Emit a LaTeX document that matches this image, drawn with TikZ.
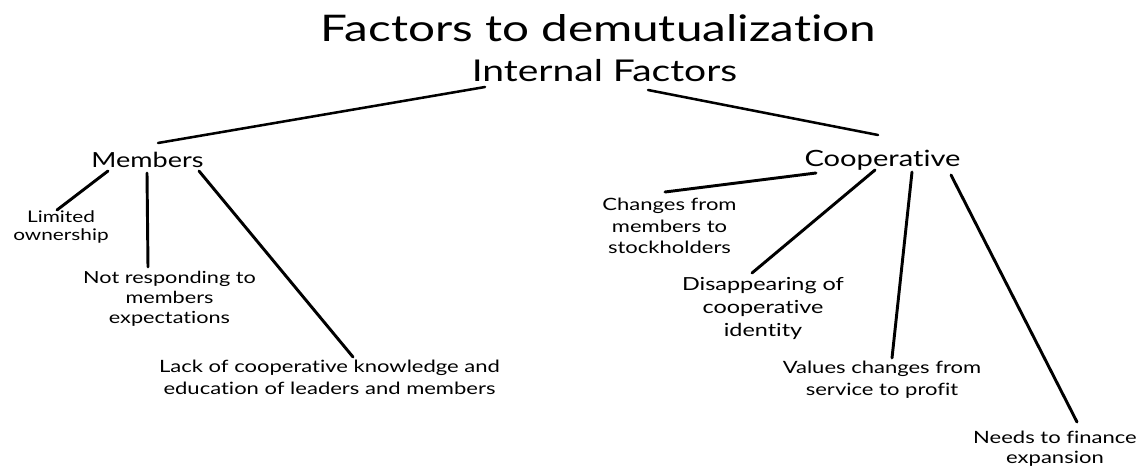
\documentclass[tikz,border=0pt]{standalone}
\usepackage{fontspec}
\setmainfont{Lato}[FakeStretch=1.3,Ligatures=NoCommon]
\usetikzlibrary{calc}
\tikzset{every picture/.style={line width=0.75pt}}

\begin{document}
\begin{tikzpicture}[x=0.75pt,y=0.75pt,yscale=-1,xscale=1,
  heading/.style={anchor=base,inner sep=0.75pt,font=\fontsize{27.5}{32}\selectfont},
  branch/.style={anchor=base,inner sep=0.75pt,font=\fontsize{16.2}{19}\selectfont},
  leaf/.style={anchor=base,inner sep=0.75pt,align=center,font=\fontsize{12.7}{15.8}\selectfont},
  link/.style={line width=2.2pt,line cap=round}]
\useasboundingbox (0,0) rectangle (1144,466);

% Text Node
\node (title) at (598.5,42) [heading] {Factors to demutualization};
% Text Node
\node (internal) at (604.5,82) [heading,font=\fontsize{22.5}{26}\selectfont] {Internal Factors};
% Text Node
\node (members) at (147.5,168) [branch,font=\fontsize{15.6}{19}\selectfont] {Members};
% Text Node
\node (coop) at (882.5,167) [branch,font=\fontsize{16.8}{19}\selectfont] {Cooperative};

% Text Node
\node (limited) at (61,241) [leaf,font=\fontsize{12}{14}\selectfont] {Limited\\ownership};
% Text Node
\node (notresp) at (169.5,323) [leaf,font=\fontsize{12.5}{15}\selectfont] {Not responding to\\members\\expectations};
% Text Node
\node (lack) at (329.5,394) [leaf] {Lack of cooperative knowledge and\\education of leaders and members};
% Text Node
\node (changes) at (669.5,254) [leaf,font=\fontsize{12.7}{16.2}\selectfont] {Changes from\\members to\\stockholders};
% Text Node
\node (disap) at (763,336) [leaf,font=\fontsize{13.5}{17}\selectfont] {Disappearing of\\cooperative\\identity};
% Text Node
\node (values) at (882,395) [leaf] {Values changes from\\service to profit};
% Text Node
\node (needs) at (1055,463) [leaf,font=\fontsize{12.7}{15}\selectfont] {Needs to finance\\expansion};

%Straight Lines
\draw [link,line width=1.9pt] ($(internal.base)+(-119.5,5)$) -- ($(members.base)+(10.5,-25)$);
\draw [link,line width=1.9pt] ($(internal.base)+(43.5,8)$) -- ($(coop.base)+(-4.5,-32)$);
%Straight Lines
\draw [link] ($(members.base)+(-39.5,3)$) -- ($(limited.base)+(-4,-31)$);
\draw [link] ($(members.base)+(-0.5,5)$) -- ($(notresp.base)+(-21.5,-56)$);
\draw [link] ($(members.base)+(51.5,3)$) -- ($(lack.base)+(23.5,-37)$);
%Straight Lines
\draw [link] ($(coop.base)+(-66.5,6)$) -- ($(changes.base)+(-4.5,-62)$);
\draw [link] ($(coop.base)+(-7.5,3)$) -- ($(disap.base)+(-11,-63)$);
\draw [link] ($(coop.base)+(29.5,5)$) -- ($(values.base)+(10,-37)$);
\draw [link] ($(coop.base)+(68.5,8)$) -- ($(needs.base)+(22,-41)$);

\end{tikzpicture}
\end{document}
